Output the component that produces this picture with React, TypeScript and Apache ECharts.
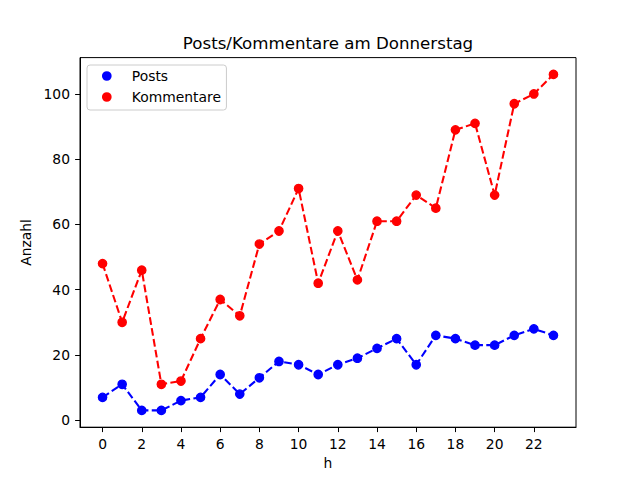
import React, { useEffect, useRef } from "react";
import * as echarts from "echarts";

const hours = [0, 1, 2, 3, 4, 5, 6, 7, 8, 9, 10, 11, 12, 13, 14, 15, 16, 17, 18, 19, 20, 21, 22, 23];
const posts = [7, 11, 3, 3, 6, 7, 14, 8, 13, 18, 17, 14, 17, 19, 22, 25, 17, 26, 25, 23, 23, 26, 28, 26];
const kommentare = [48, 30, 46, 11, 12, 25, 37, 32, 54, 58, 71, 42, 58, 43, 61, 61, 69, 65, 89, 91, 69, 97, 100, 106];
const xTicks = [0, 2, 4, 6, 8, 10, 12, 14, 16, 18, 20, 22];
const yTicks = [0, 20, 40, 60, 80, 100];

const FONT = "DejaVu Sans";
const LEGEND_ICON =
  "path://M0,4.85 M34.2,4.85 M9.35,4.85 A4.85,4.85 0 1 1 19.05,4.85 A4.85,4.85 0 1 1 9.35,4.85 Z";

export default function App() {
  const ref = useRef<HTMLDivElement>(null);
  useEffect(() => {
    document.body.style.margin = "0";
    const chart = echarts.init(ref.current!, null, { renderer: "svg" });
    const mkSeries = (name: string, vals: number[], color: string) => ({
      name,
      type: "line",
      data: hours.map((h, i) => [h, vals[i]]),
      symbol: "circle",
      symbolSize: 8.3,
      showSymbol: true,
      lineStyle: { color, width: 2.08, type: [7.7, 3.33] },
      itemStyle: { color, borderColor: color, borderWidth: 1.4 },
      emphasis: { disabled: true },
    });
    chart.setOption({
      animation: false,
      backgroundColor: "#fff",
      textStyle: { fontFamily: FONT },
      title: {
        text: "Posts/Kommentare am Donnerstag",
        left: 328,
        top: 35,
        padding: 0,
        textAlign: "center",
        textStyle: { fontFamily: FONT, fontSize: 16.67, fontWeight: "normal", color: "#000" },
      },
      legend: {
        left: 87,
        top: 65,
        orient: "vertical",
        icon: LEGEND_ICON,
        itemWidth: 34.2,
        itemHeight: 9.7,
        itemGap: 7,
        padding: [4, 5.5, 6, 5.6],
        backgroundColor: "#fff",
        borderColor: "#cccccc",
        borderWidth: 1,
        borderRadius: 3,
        itemStyle: { borderWidth: 0 },
        textStyle: { fontFamily: FONT, fontSize: 13.89, color: "#000" },
        data: ["Posts", "Kommentare"],
      },
      grid: {
        left: 80,
        right: 64,
        top: 57.6,
        bottom: 52.8,
        show: true,
        borderColor: "#000",
        borderWidth: 1,
        backgroundColor: "transparent",
        containLabel: false,
      },
      xAxis: {
        type: "value",
        min: -1.15,
        max: 24.15,
        name: "h",
        nameLocation: "middle",
        nameGap: 27,
        nameTextStyle: { fontFamily: FONT, fontSize: 13.89, color: "#000" },
        axisLine: { show: true, onZero: false, lineStyle: { color: "#000", width: 1 } },
        axisTick: { show: true, inside: false, length: 4.9, lineStyle: { color: "#000", width: 1 }, customValues: xTicks },
        axisLabel: { margin: 9.5, fontFamily: FONT, fontSize: 13.89, color: "#000", customValues: xTicks },
        splitLine: { show: false },
      },
      yAxis: {
        type: "value",
        min: -2.15,
        max: 111.15,
        name: "Anzahl",
        nameLocation: "middle",
        nameRotate: 90,
        nameGap: 44,
        nameTextStyle: { fontFamily: FONT, fontSize: 13.89, color: "#000" },
        axisLine: { show: true, onZero: false, lineStyle: { color: "#000", width: 1 } },
        axisTick: { show: true, inside: false, length: 4.9, lineStyle: { color: "#000", width: 1 }, customValues: yTicks },
        axisLabel: { margin: 10, fontFamily: FONT, fontSize: 13.89, color: "#000", customValues: yTicks },
        splitLine: { show: false },
      },
      series: [mkSeries("Posts", posts, "#0000ff"), mkSeries("Kommentare", kommentare, "#ff0000")],
    });
    return () => chart.dispose();
  }, []);
  return <div ref={ref} style={{ width: 640, height: 480 }} />;
}
